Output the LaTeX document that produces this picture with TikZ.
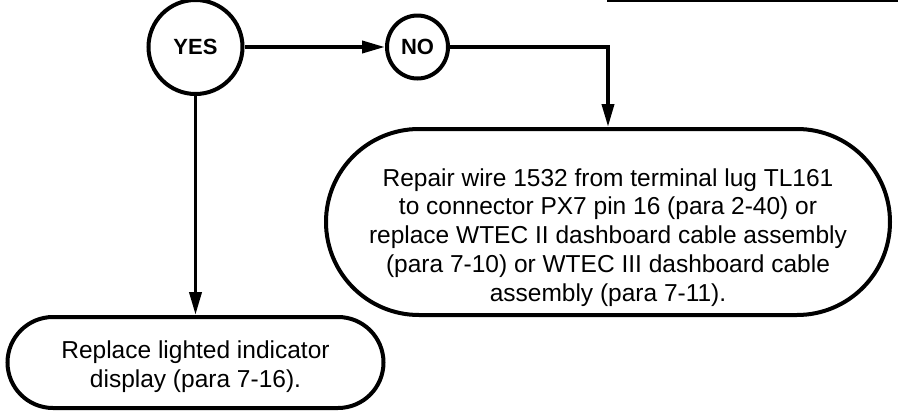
\documentclass[tikz,border=0pt]{standalone}
\usepackage{fontspec}
\setmainfont{Liberation Sans}
\usetikzlibrary{shapes.geometric,arrows.meta}
\tikzset{
  decision/.style={ellipse, draw, line width=4pt, inner sep=0pt,
    font=\fontsize{22}{26}\selectfont\bfseries},
  actionbox/.style={rectangle, draw, line width=4pt, inner sep=0pt},
  bodytext/.style={align=center, inner sep=0pt, anchor=north,
    font=\fontsize{24.5}{28.7}\selectfont},
  conn/.style={line width=3.8pt, -{Triangle[length=23pt,width=12pt]}},
  plainline/.style={line width=3.8pt},
}
\begin{document}
\begin{tikzpicture}[x=1pt,y=-1pt]
\useasboundingbox (0,0) rectangle (898,413);
% decisions
\node[decision, minimum width=94pt, minimum height=94pt] (yes) at (195.5,47) {YES};
\node[decision, minimum width=61pt, minimum height=63pt] (no) at (417.5,47) {NO};
% action boxes
\node[actionbox, rounded corners=93pt, minimum width=564pt, minimum height=186pt] (big) at (608,222) {};
\node[bodytext] (bigtext) at (608,168) {\rule{0pt}{18pt}Repair wire 1532 from terminal lug TL161\\
to connector PX7 pin 16 (para 2-40) or\\
replace WTEC II dashboard cable assembly\\
(para 7-10) or WTEC III dashboard cable\\
assembly (para 7-11).};
\node[actionbox, rounded corners=45.5pt, minimum width=376pt, minimum height=91pt] (small) at (195.5,362.5) {};
\node[bodytext] (smalltext) at (195.5,340.3) {\rule{0pt}{18pt}Replace lighted indicator\\
display (para 7-16).};
% connectors
\draw[conn] (yes.east) -- (no.west);
\draw[conn] (no.east) -| (big.north);
\draw[conn] (yes.south) -- (small.north);
% fragment of a frame at the top right
\coordinate (frameL) at (607,1);
\coordinate (frameR) at (898,1);
\draw[line width=2pt] (frameL) -- (frameR);
\end{tikzpicture}
\end{document}
